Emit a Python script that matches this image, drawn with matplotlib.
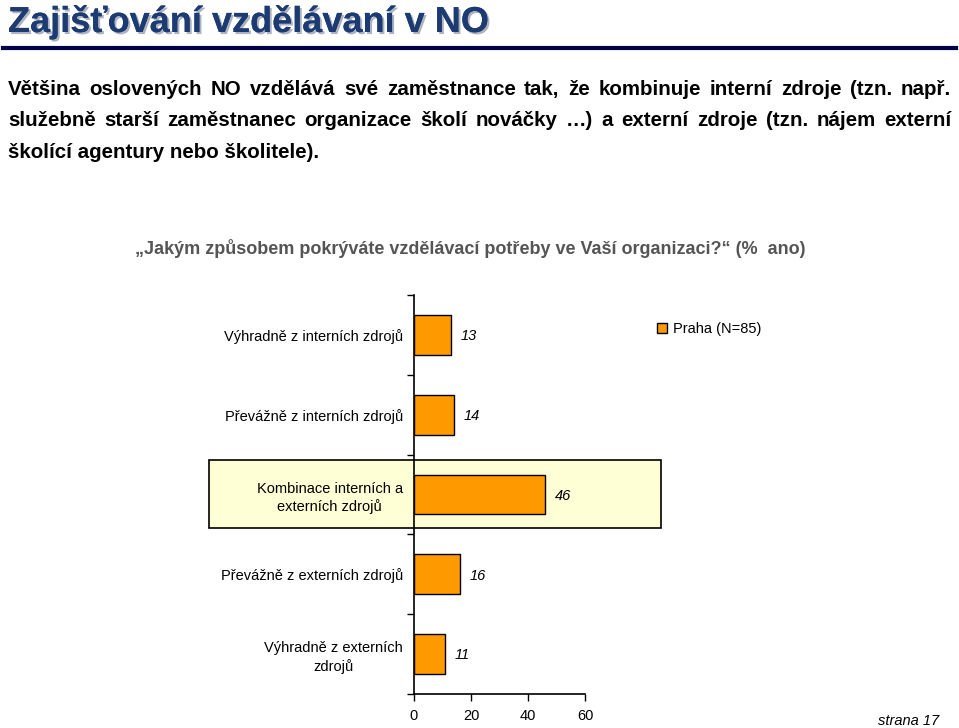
import matplotlib
matplotlib.use("Agg")
import matplotlib.pyplot as plt
import matplotlib.patheffects as pe
from matplotlib.patches import Rectangle
from matplotlib.lines import Line2D

# data
categories = [
    "Výhradně z interních zdrojů",
    "Převážně z interních zdrojů",
    "Kombinace interních a\nexterních zdrojů",
    "Převážně z externích zdrojů",
    "Výhradně z externích\nzdrojů",
]
values = [13, 14, 46, 16, 11]
series_name = "Praha (N=85)"
x_ticks = [0, 20, 40, 60]

title = "Zajišťování vzdělávaní v NO"
paragraph = [
    "Většina oslovených NO vzdělává své zaměstnance tak, že kombinuje interní zdroje (tzn. např.",
    "služebně starší zaměstnanec organizace školí nováčky …) a externí zdroje (tzn. nájem externí",
    "školící agentury nebo školitele).",
]
question = "„Jakým způsobem pokrýváte vzdělávací potřeby ve Vaší organizaci?“ (%  ano)"

W, H = 959, 728
fig = plt.figure(figsize=(W / 100, H / 100), dpi=100)
plt.rcParams["font.family"] = ["Liberation Sans", "DejaVu Sans"]


def fx(px):
    return px / W


def fy(py):
    return 1 - py / H


# title with shadow and rule
fig.text(fx(8), fy(32), title, fontsize=26, fontweight="bold", color="#1C3B73",
         va="baseline", ha="left",
         path_effects=[pe.withSimplePatchShadow(offset=(1.5, -1.5), shadow_rgbFace="#9aa0b0", alpha=0.8),
                       pe.Normal()])
fig.add_artist(Line2D([fx(3), fx(956)], [fy(48), fy(48)], color="#000048", lw=3))

# justified paragraph
renderer = fig.canvas.get_renderer()
left, right = 8, 951
for i, line in enumerate(paragraph):
    y = fy(95 + i * 31.5)
    if i == len(paragraph) - 1:
        fig.text(fx(left), y, line, fontsize=14.8, fontweight="bold", va="baseline", ha="left")
        continue
    words = line.split(" ")
    texts = [fig.text(0, y, w, fontsize=14.8, fontweight="bold", va="baseline", ha="left") for w in words]
    widths = [t.get_window_extent(renderer).width for t in texts]
    gap = (right - left - sum(widths)) / (len(words) - 1)
    x = left
    for t, w in zip(texts, widths):
        t.set_x(fx(x))
        x += w + gap

fig.text(fx(470), fy(248), question, fontsize=13, fontweight="bold", color="#555555",
         ha="center", va="center", family=["Liberation Sans Narrow", "Liberation Sans", "DejaVu Sans"])

# highlight box behind the third category
fig.add_artist(Rectangle((fx(209), fy(528)), fx(661) - fx(209), fy(460) - fy(528),
                         transform=fig.transFigure, facecolor="#FFFFD6", edgecolor="black",
                         lw=1.2, zorder=-1))

ax = fig.add_axes([fx(414), fy(694), fx(585) - fx(414), fy(295) - fy(694)])
ax.set_facecolor("none")
pos = list(range(len(categories)))
bars = ax.barh(pos, values, height=0.5, color="#FF9900", edgecolor="black", lw=1, label=series_name)
for p, v in zip(pos, values):
    ax.annotate(str(v), (v, p), xytext=(7, -1), textcoords="offset points",
                ha="left", va="center", fontsize=10.5, style="italic")

ax.set_xlim(0, 60)
ax.set_ylim(len(categories) - 0.5, -0.5)
ax.set_xticks(x_ticks)
ax.set_xticklabels([str(t) for t in x_ticks], fontsize=10.5)
ax.set_yticks(pos)
ax.set_yticklabels(categories, fontsize=10.5, multialignment="center", linespacing=1.3)
ax.tick_params(axis="y", which="major", length=0, pad=8)
ax.set_yticks([p - 0.5 for p in pos] + [len(pos) - 0.5], minor=True)
ax.tick_params(axis="y", which="minor", length=5, width=1, direction="out")
ax.tick_params(axis="x", length=5, width=1, direction="out", pad=6)
for s in ("top", "right"):
    ax.spines[s].set_visible(False)
for s in ("left", "bottom"):
    ax.spines[s].set_linewidth(1.2)

ax.legend(handles=[bars], loc="center left", bbox_to_anchor=(fx(644), fy(329)),
          bbox_transform=fig.transFigure, frameon=False, fontsize=10.5,
          handlelength=0.7, handleheight=0.7, handletextpad=0.4)

fig.text(fx(878), fy(721), "strana 17", fontsize=10.5, style="italic", ha="left", va="center")

fig.savefig("out.png", dpi=100)
